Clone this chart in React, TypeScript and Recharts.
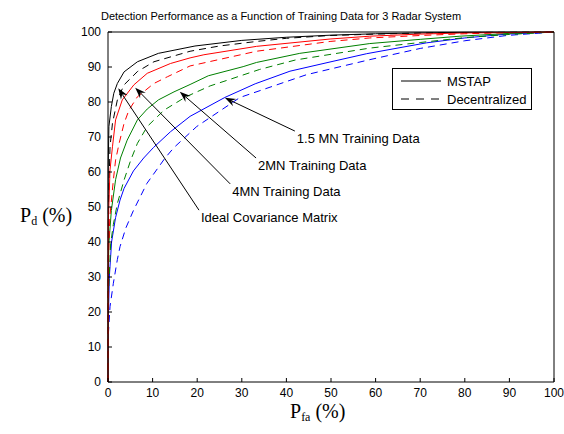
import React from "react";
import { LineChart, Line, XAxis, YAxis, ReferenceLine, Legend } from "recharts";

type Pt = [number, number];

const axisTicks = [0, 10, 20, 30, 40, 50, 60, 70, 80, 90, 100];

// [Pfa %, Pd %]
const idealMstap: Pt[] = [
  [0, 0], [0.05, 62], [0.2, 73], [0.75, 78.7], [1.3, 82.5], [2.1, 85.3], [3.6, 88.6], [6.6, 91.5],
  [11.3, 93.9], [19.5, 96], [30, 97.6], [40, 98.5], [50, 99.1], [60, 99.5], [70, 99.75], [80, 99.9], [100, 100],
];
const idealDecentralized: Pt[] = [
  [0, 0], [0.1, 50], [0.45, 67.2], [1, 73.9], [2.1, 80.6], [3.6, 84.9], [6.6, 88.7], [10.3, 91.5],
  [18.4, 94.5], [25, 96], [33.3, 97.3], [40, 98.2], [49.8, 99], [60, 99.4], [70, 99.7], [80, 99.85], [100, 100],
];
const mn4Mstap: Pt[] = [
  [0, 0], [0.05, 45], [0.45, 60.6], [1, 67.2], [1.7, 74.9], [3.2, 80.6], [5.8, 84.9], [8.8, 88.2],
  [14, 91], [18.4, 92.6], [21.5, 93.5], [33.3, 95.9], [49.8, 98], [58.7, 98.8], [70, 99.4], [78.9, 99.7], [100, 100],
];
const mn4Decentralized: Pt[] = [
  [0, 0], [0.1, 35], [0.4, 47], [1.2, 57.7], [1.7, 63.4], [2.5, 68.2], [3.6, 73.9], [4.7, 77.7], [6.6, 81.5],
  [10.3, 85.3], [13.3, 87.2], [18.4, 90.3], [33.3, 94.5], [49.8, 97.3], [58.7, 98.3], [70, 99], [80, 99.5], [90, 99.8], [100, 100],
];
const mn2Mstap: Pt[] = [
  [0, 0], [0.05, 30], [0.2, 39.6], [0.75, 49], [1.7, 57.8], [2.8, 64], [4.3, 69.1], [6.6, 74.9], [8.8, 78],
  [11.3, 80.6], [14.8, 82.9], [18.4, 85], [22.5, 87.5], [30.3, 90.1], [33.3, 91.3], [43, 93.9], [58.7, 96.7],
  [70, 97.9], [78.9, 98.8], [90, 99.6], [100, 100],
];
const mn2Decentralized: Pt[] = [
  [0, 0], [0.1, 25], [0.6, 39.6], [1.2, 45], [2.1, 51], [3.6, 57.7], [5.1, 63.4], [6.6, 68.2], [8.8, 73],
  [12.6, 77.7], [17.5, 81.5], [22.9, 84.6], [26, 85.9], [34, 89.3], [42, 92], [58.7, 95.4], [70, 97],
  [80, 98.4], [90, 99.3], [100, 100],
];
const mn15Mstap: Pt[] = [
  [0, 0], [0.1, 19], [0.3, 30], [0.8, 40], [1.7, 47], [2.7, 52], [3.6, 55.3], [5.7, 60.3], [8, 64],
  [10.2, 67], [14, 71.5], [18.4, 75.9], [26.2, 81.3], [33, 85.2], [40.8, 88.8], [50, 91.5], [58, 93.8],
  [71.4, 96.9], [80, 98.3], [89.4, 99.4], [100, 100],
];
const mn15Decentralized: Pt[] = [
  [0, 0], [0.1, 14], [0.45, 21.5], [1.2, 28.2], [2.1, 35], [2.7, 38.7], [4, 44], [5.7, 49], [8.7, 56.7],
  [12.8, 64], [14.8, 67], [19.9, 73], [29.6, 81.3], [44.5, 87.8], [58.7, 92.1], [70, 95.3], [80, 97.5],
  [89.4, 99], [100, 100],
];

const series = [
  { key: "idealD", points: idealDecentralized, color: "#000000", dashed: true },
  { key: "idealM", points: idealMstap, color: "#000000", dashed: false },
  { key: "mn15D", points: mn15Decentralized, color: "#0000ff", dashed: true },
  { key: "mn15M", points: mn15Mstap, color: "#0000ff", dashed: false },
  { key: "mn2D", points: mn2Decentralized, color: "#008000", dashed: true },
  { key: "mn2M", points: mn2Mstap, color: "#008000", dashed: false },
  { key: "mn4D", points: mn4Decentralized, color: "#ff0000", dashed: true },
  { key: "mn4M", points: mn4Mstap, color: "#ff0000", dashed: false },
];

// arrow annotations: tail (text end) -> tip on the curve, in data units
const annotations = [
  { text: "1.5 MN Training Data", tail: [41.9, 71.7], tip: [26.2, 81.2] },
  { text: "2MN Training Data", tail: [33.2, 64], tip: [16.1, 82.9] },
  { text: "4MN Training Data", tail: [27.4, 56.6], tip: [6.1, 84.1] },
  { text: "Ideal Covariance Matrix", tail: [20.4, 49.1], tip: [2.3, 83.9] },
];

const legendItems = [
  { label: "MSTAP", dashed: false },
  { label: "Decentralized", dashed: true },
];

const sans = "'Liberation Sans', Arial, Helvetica, sans-serif";
const serif = "'Liberation Serif', 'Times New Roman', serif";

const arrowShape = (text: string) => (props: any) => {
  const { x1, y1, x2, y2 } = props;
  const dx = x2 - x1;
  const dy = y2 - y1;
  const len = Math.sqrt(dx * dx + dy * dy) || 1;
  const ux = dx / len;
  const uy = dy / len;
  const nx = -uy;
  const ny = ux;
  const L = 11;
  const W = 4;
  const bx = x2 - ux * L;
  const by = y2 - uy * L;
  const ix = x2 - ux * L * 0.65;
  const iy = y2 - uy * L * 0.65;
  const head = `${x2},${y2} ${bx + nx * W},${by + ny * W} ${ix},${iy} ${bx - nx * W},${by - ny * W}`;
  return (
    <g>
      <line x1={x1} y1={y1} x2={ix} y2={iy} stroke="#000" strokeWidth={1} />
      <polygon points={head} fill="#000" />
      <text x={x1 + 2} y={y1 + 12} fontSize={13} fontFamily={sans} fill="#000">
        {text}
      </text>
    </g>
  );
};

const LegendBox = () => (
  <div
    style={{
      width: 140,
      height: 42,
      border: "1px solid #000",
      background: "#fff",
      fontFamily: sans,
      fontSize: 13,
      boxSizing: "border-box",
      padding: "3px 0 0 8px",
    }}
  >
    {legendItems.map((item) => (
      <div key={item.label} style={{ display: "flex", alignItems: "center", height: 18 }}>
        <svg width={40} height={4} style={{ marginRight: 6 }}>
          <line x1={0} y1={2} x2={40} y2={2} stroke="#000" strokeWidth={1} strokeDasharray={item.dashed ? "8 7" : undefined} />
        </svg>
        <span>{item.label}</span>
      </div>
    ))}
  </div>
);

export default function App() {
  return (
    <div style={{ position: "absolute", left: 0, top: 0, width: 564, height: 434, background: "#fff" }}>
      <LineChart width={564} height={434} margin={{ top: 31, right: 9, bottom: 22, left: 68 }}>
        <text x={101} y={20} fontSize={11} fontFamily={sans} fill="#000">
          Detection Performance as a Function of Training Data for 3 Radar System
        </text>
        <XAxis
          xAxisId="b"
          type="number"
          dataKey="x"
          domain={[0, 100]}
          ticks={axisTicks}
          height={30}
          tickSize={-4}
          tickMargin={10}
          stroke="#000"
          tick={{ fill: "#000", fontSize: 12, fontFamily: sans }}
          label={{
            position: "bottom",
            content: () => (
              <text x={290} y={418} fontFamily={serif} fontSize={20} fill="#000">
                P<tspan fontSize={12} dy={3}>fa</tspan>
                <tspan dy={-3} fontSize={20}> (%)</tspan>
              </text>
            ),
          }}
        />
        <XAxis
          xAxisId="t"
          orientation="top"
          type="number"
          dataKey="x"
          domain={[0, 100]}
          ticks={axisTicks}
          height={1}
          tickSize={-4}
          stroke="#000"
          tickFormatter={() => ""}
        />
        <YAxis
          yAxisId="l"
          type="number"
          domain={[0, 100]}
          ticks={axisTicks}
          width={40}
          tickSize={-4}
          tickMargin={11}
          stroke="#000"
          tick={{ fill: "#000", fontSize: 12, fontFamily: sans }}
          label={{
            position: "left",
            content: () => (
              <text x={20} y={222} fontFamily={serif} fontSize={20} fill="#000">
                P<tspan fontSize={12} dy={3}>d</tspan>
                <tspan dy={-3} fontSize={20}> (%)</tspan>
              </text>
            ),
          }}
        />
        <YAxis
          yAxisId="r"
          orientation="right"
          type="number"
          domain={[0, 100]}
          ticks={axisTicks}
          width={1}
          tickSize={-4}
          stroke="#000"
          tickFormatter={() => ""}
        />
        {series.map((s) => (
          <Line
            key={s.key}
            xAxisId="b"
            yAxisId="l"
            data={s.points.map(([x, y]) => ({ x, y }))}
            dataKey="y"
            type="linear"
            stroke={s.color}
            strokeWidth={1}
            strokeDasharray={s.dashed ? "7 5" : undefined}
            dot={false}
            activeDot={false}
            isAnimationActive={false}
            legendType="none"
          />
        ))}
        {annotations.map((a) => (
          <ReferenceLine
            key={a.text}
            xAxisId="b"
            yAxisId="l"
            segment={[
              { x: a.tail[0], y: a.tail[1] },
              { x: a.tip[0], y: a.tip[1] },
            ]}
            shape={arrowShape(a.text)}
          />
        ))}
        <Legend
          layout="vertical"
          align="center"
          verticalAlign="middle"
          content={() => <LegendBox />}
          wrapperStyle={{ left: 392, top: 68, width: 140 }}
        />
      </LineChart>
    </div>
  );
}
